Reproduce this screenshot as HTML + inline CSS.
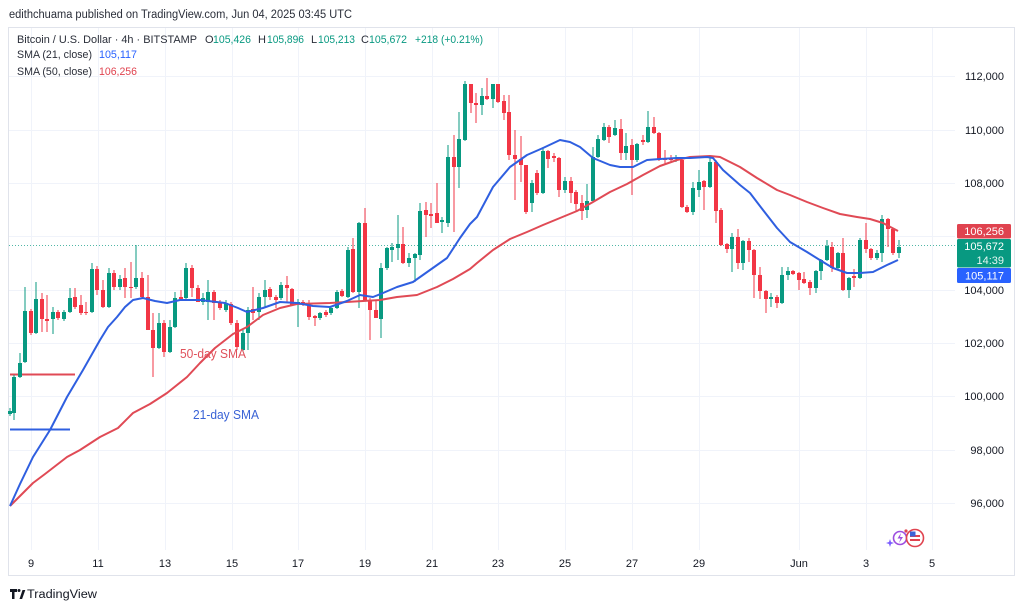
<!DOCTYPE html>
<html><head><meta charset="utf-8"><style>
html,body{margin:0;padding:0;background:#fff;}
svg{display:block;font-family:"Liberation Sans",sans-serif;}
</style></head><body>
<svg width="1024" height="609" viewBox="0 0 1024 609" xmlns="http://www.w3.org/2000/svg">
<rect width="1024" height="609" fill="#fff"/>
<text x="9" y="18" font-size="11.5" fill="#2a2e39" textLength="343" lengthAdjust="spacingAndGlyphs">edithchuama published on TradingView.com, Jun 04, 2025 03:45 UTC</text>
<rect x="8.5" y="27.5" width="1006" height="548" fill="#fff" stroke="#e0e3eb"/>
<g stroke="#f0f3fa" stroke-width="1">
<path d="M9 76.5H955M9 130.5H955M9 183.5H955M9 236.5H955M9 290.5H955M9 343.5H955M9 396.5H955M9 450.5H955M9 503.5H955"/>
<path d="M31.5 28V550M98.5 28V550M165.5 28V550M232.5 28V550M298.5 28V550M365.5 28V550M432.5 28V550M498.5 28V550M565.5 28V550M632.5 28V550M699.5 28V550M799.5 28V550M866.5 28V550M932.5 28V550"/>
</g>
<text x="17" y="43" font-size="11" fill="#2a2e39" textLength="180" lengthAdjust="spacingAndGlyphs">Bitcoin / U.S. Dollar · 4h · BITSTAMP</text>
<g font-size="11">
<text x="205" y="43" fill="#2a2e39">O</text><text x="213" y="43" fill="#089981" textLength="38" lengthAdjust="spacingAndGlyphs">105,426</text>
<text x="258" y="43" fill="#2a2e39">H</text><text x="267" y="43" fill="#089981" textLength="37" lengthAdjust="spacingAndGlyphs">105,896</text>
<text x="311" y="43" fill="#2a2e39">L</text><text x="318" y="43" fill="#089981" textLength="37" lengthAdjust="spacingAndGlyphs">105,213</text>
<text x="361" y="43" fill="#2a2e39">C</text><text x="369" y="43" fill="#089981" textLength="38" lengthAdjust="spacingAndGlyphs">105,672</text>
<text x="415" y="43" fill="#089981" textLength="68" lengthAdjust="spacingAndGlyphs">+218 (+0.21%)</text>
<text x="17" y="58" fill="#2a2e39" textLength="75" lengthAdjust="spacingAndGlyphs">SMA (21, close)</text><text x="99" y="58" fill="#2962ff" textLength="38" lengthAdjust="spacingAndGlyphs">105,117</text>
<text x="17" y="75" fill="#2a2e39" textLength="75" lengthAdjust="spacingAndGlyphs">SMA (50, close)</text><text x="99" y="75" fill="#e0434f" textLength="38" lengthAdjust="spacingAndGlyphs">106,256</text>
</g>
<!-- price axis -->
<g font-size="11" fill="#131722" text-anchor="end">
<text x="1004" y="80">112,000</text>
<text x="1004" y="134">110,000</text>
<text x="1004" y="187">108,000</text>
<text x="1004" y="294">104,000</text>
<text x="1004" y="347">102,000</text>
<text x="1004" y="400">100,000</text>
<text x="1004" y="454">98,000</text>
<text x="1004" y="507">96,000</text>
</g>
<!-- time axis -->
<g font-size="11" fill="#131722" text-anchor="middle">
<text x="31" y="567">9</text><text x="98" y="567">11</text><text x="165" y="567">13</text><text x="232" y="567">15</text><text x="298" y="567">17</text><text x="365" y="567">19</text><text x="432" y="567">21</text><text x="498" y="567">23</text><text x="565" y="567">25</text><text x="632" y="567">27</text><text x="699" y="567">29</text><text x="799" y="567">Jun</text><text x="866" y="567">3</text><text x="932" y="567">5</text>
</g>
<!-- current price dotted line -->
<path d="M9 245.5H957" stroke="#089981" stroke-width="1" stroke-dasharray="1 2" opacity="0.7"/>
<!-- drawn segments -->
<path d="M10 374.5H75" stroke="#e04a55" stroke-width="2"/>
<path d="M10 429.5H70" stroke="#2f5fe0" stroke-width="2"/>
<!-- candles -->
<path stroke="#089981" stroke-width="1" fill="none" d="M10 408V416M14 375V420M20 353V378M25 287V363M36 282V334M53 307V334M64 310V321M70 288V313M92 263V313M109 268V308M120 275V290M136 245V289M159 313V349M170 320V353M175 292V328M186 263V299M203 293V305M208 280V320M226 300V312M243 330V352M248 307V350M259 293V320M265 280V307M281 282V300M298 299V327M320 312V320M331 306V315M337 290V309M348 247V298M359 222V308M381 263V338M387 247V270M392 243V262M398 215V260M409 253V267M415 253V282M420 203V260M442 217V233M448 145V227M459 112V188M465 81V141M482 88V115M493 84V108M532 180V212M543 147V194M565 177V193M587 184V218M593 147V202M598 135V158M604 123V141M615 120V136M626 133V160M637 143V162M648 111V143M676 155V162M693 182V215M699 170V197M710 158V188M732 233V272M743 240V270M771 293V307M782 267V304M788 267V280M816 270V293M821 259V280M827 240V261M838 252V269M849 277V298M860 238V279M877 250V260M882 215V262M899 240V258"/>
<path fill="#089981" d="M8 411h4v3h-4zM12 377h4v36h-4zM18 363h4v14h-4zM23 311h4v51h-4zM34 299h4v34h-4zM51 312h4v7h-4zM62 312h4v7h-4zM68 298h4v14h-4zM90 269h4v43h-4zM107 273h4v34h-4zM118 279h4v8h-4zM134 278h4v9h-4zM157 323h4v25h-4zM168 327h4v25h-4zM173 298h4v29h-4zM184 268h4v30h-4zM201 298h4v4h-4zM206 292h4v10h-4zM224 303h4v7h-4zM241 333h4v17h-4zM246 310h4v23h-4zM257 297h4v15h-4zM263 290h4v7h-4zM279 285h4v13h-4zM296 302h4v2h-4zM318 313h4v5h-4zM329 308h4v5h-4zM335 292h4v16h-4zM346 250h4v47h-4zM357 223h4v69h-4zM379 268h4v51h-4zM385 248h4v20h-4zM390 247h4v3h-4zM396 244h4v4h-4zM407 258h4v5h-4zM413 254h4v4h-4zM418 211h4v44h-4zM440 220h4v2h-4zM446 157h4v66h-4zM457 139h4v28h-4zM463 84h4v56h-4zM480 96h4v9h-4zM491 84h4v15h-4zM530 183h4v20h-4zM541 151h4v42h-4zM563 181h4v9h-4zM585 201h4v9h-4zM591 157h4v44h-4zM596 139h4v18h-4zM602 127h4v13h-4zM613 128h4v7h-4zM624 146h4v7h-4zM635 144h4v16h-4zM646 127h4v15h-4zM674 158h4v1h-4zM691 188h4v24h-4zM697 182h4v8h-4zM708 162h4v25h-4zM730 237h4v12h-4zM741 241h4v22h-4zM769 297h4v2h-4zM780 275h4v28h-4zM786 271h4v4h-4zM814 271h4v17h-4zM819 260h4v11h-4zM825 246h4v14h-4zM836 253h4v15h-4zM847 278h4v12h-4zM858 240h4v38h-4zM875 253h4v5h-4zM880 219h4v34h-4zM897 247h4v6h-4z"/>
<path stroke="#f23645" stroke-width="1" fill="none" d="M31 309V335M42 293V332M47 295V332M58 310V320M75 288V309M81 295V315M86 302V315M97 266V295M103 280V308M114 270V290M125 268V298M131 262V298M142 272V298M148 275V330M153 313V377M164 320V357M181 290V300M192 265V297M198 285V302M214 290V320M220 300V310M231 302V325M237 320V350M253 287V320M270 287V300M276 295V308M287 276V303M292 288V306M303 300V306M309 300V320M315 315V326M326 310V317M342 289V297M353 238V293M365 208V300M370 298V340M376 300V318M403 227V264M426 202V237M431 203V228M437 183V223M454 135V232M471 84V113M476 93V123M487 78V100M498 84V103M504 95V120M509 95V160M515 130V200M521 136V182M526 165V214M537 170V195M548 150V168M554 153V162M559 157V197M571 177V203M576 190V212M582 195V220M609 125V143M621 119V160M632 139V195M643 135V145M654 117V134M659 132V161M665 150V165M671 155V163M682 159V208M687 205V213M704 180V210M716 160V223M721 208V246M727 243V253M738 229V269M749 238V262M754 249V298M760 267V299M766 290V313M777 295V308M793 270V275M799 272V290M804 272V284M810 280V295M832 242V272M843 238V291M854 269V287M866 223V253M871 248V260M888 218V247M893 228V255"/>
<path fill="#f23645" d="M29 311h4v22h-4zM40 299h4v20h-4zM45 319h4v2h-4zM56 312h4v6h-4zM73 297h4v10h-4zM79 305h4v8h-4zM84 312h4v1h-4zM95 269h4v21h-4zM101 290h4v17h-4zM112 273h4v14h-4zM123 278h4v9h-4zM129 287h4v1h-4zM140 278h4v19h-4zM146 297h4v33h-4zM151 330h4v18h-4zM162 323h4v29h-4zM179 297h4v2h-4zM190 268h4v20h-4zM196 288h4v14h-4zM212 292h4v11h-4zM218 303h4v5h-4zM229 304h4v19h-4zM235 323h4v24h-4zM251 309h4v4h-4zM268 289h4v8h-4zM274 297h4v3h-4zM285 285h4v3h-4zM290 289h4v16h-4zM301 302h4v2h-4zM307 304h4v13h-4zM313 316h4v2h-4zM324 312h4v3h-4zM340 291h4v5h-4zM351 249h4v43h-4zM363 223h4v77h-4zM368 300h4v10h-4zM374 310h4v8h-4zM401 244h4v19h-4zM424 210h4v5h-4zM429 214h4v2h-4zM435 213h4v10h-4zM452 157h4v10h-4zM469 84h4v19h-4zM474 103h4v2h-4zM485 96h4v3h-4zM496 84h4v18h-4zM502 101h4v12h-4zM507 112h4v43h-4zM513 155h4v4h-4zM519 159h4v6h-4zM524 165h4v47h-4zM535 173h4v20h-4zM546 151h4v8h-4zM552 156h4v2h-4zM557 158h4v32h-4zM569 181h4v12h-4zM574 192h4v12h-4zM580 203h4v8h-4zM607 127h4v10h-4zM619 129h4v24h-4zM630 145h4v15h-4zM641 140h4v2h-4zM652 127h4v6h-4zM657 133h4v27h-4zM663 158h4v2h-4zM669 158h4v2h-4zM680 160h4v47h-4zM685 207h4v5h-4zM702 181h4v6h-4zM714 162h4v49h-4zM719 210h4v35h-4zM725 244h4v5h-4zM736 237h4v26h-4zM747 241h4v9h-4zM752 250h4v25h-4zM758 275h4v16h-4zM764 291h4v8h-4zM775 297h4v6h-4zM791 271h4v3h-4zM797 273h4v7h-4zM802 279h4v4h-4zM808 282h4v6h-4zM830 247h4v21h-4zM841 253h4v37h-4zM852 276h4v2h-4zM864 240h4v9h-4zM869 249h4v9h-4zM886 219h4v10h-4zM891 229h4v24h-4z"/>
<!-- SMA 50 (red) -->
<polyline fill="none" stroke="#e04a55" stroke-width="2" stroke-linejoin="round" points="10,506 20,496 33,483 45,474 67,457 80,450 100,437 118,428 133,413 150,404 167,393 187,377 200,363 215,348 233,334 247,327 263,315 280,308 297,304 330,303 363,301 380,300 397,297 417,295 437,287 453,279 470,269 477,263 493,250 510,239 527,232 543,225 560,218 577,211 593,202 610,192 627,184 643,175 660,166 677,160 690,157 710,156 720,157 740,167 757,178 777,190 790,195 807,202 823,208 840,214 857,217 870,219 883,223 898,231"/>
<!-- SMA 21 (blue) -->
<polyline fill="none" stroke="#2f5fe0" stroke-width="2" stroke-linejoin="round" points="10,506 20,484 33,457 50,430 67,397 83,370 100,340 108,327 117,317 125,307 133,300 143,298 155,301 167,303 180,300 200,300 225,303 238,308 247,312 263,308 280,302 297,303 313,306 330,307 347,301 360,295 373,297 383,293 397,287 413,282 430,270 447,258 460,238 470,224 477,217 493,187 510,167 527,155 543,148 560,140 570,142 580,147 593,158 610,165 620,167 633,167 647,160 660,159 677,158 690,158 707,157 713,158 723,170 740,185 750,193 763,210 777,228 790,242 807,252 823,262 833,268 847,273 860,273 873,272 887,265 898,260"/>
<!-- annotations -->
<text x="180" y="358" font-size="12.5" fill="#e0525c" textLength="66" lengthAdjust="spacingAndGlyphs">50-day SMA</text>
<text x="193" y="419" font-size="12.5" fill="#3a63d6" textLength="66" lengthAdjust="spacingAndGlyphs">21-day SMA</text>
<!-- price labels -->
<rect x="957" y="224" width="54" height="14.5" rx="1.5" fill="#e0434f"/>
<text x="1004" y="235" font-size="11" fill="#fff" text-anchor="end">106,256</text>
<rect x="957" y="239" width="54" height="28.5" rx="1.5" fill="#089981"/>
<text x="1004" y="250" font-size="11" fill="#fff" text-anchor="end">105,672</text>
<text x="1004" y="264" font-size="11" fill="#e6f7f3" text-anchor="end">14:39</text>
<rect x="957" y="268" width="54" height="15" rx="1.5" fill="#2962ff"/>
<text x="1004" y="279.5" font-size="11" fill="#fff" text-anchor="end">105,117</text>
<!-- event icons -->
<circle cx="900" cy="538" r="6.5" fill="#fff" stroke="#9c4ee0" stroke-width="1.6"/>
<path d="M901 533l-3.5 5.5h3l-1.5 4.5 4-6h-3z" fill="#9c4ee0"/>
<path d="M889 542l1-3 1 3 3 1-3 1-1 3-1-3-3-1z" fill="#7a5cff"/>
<circle cx="915" cy="538" r="8.5" fill="#fff" stroke="#e0434f" stroke-width="1.6"/>
<rect x="910" y="535" width="10" height="2" fill="#e0434f"/>
<rect x="910" y="539" width="10" height="2" fill="#e0434f"/>
<rect x="910" y="531.5" width="5.5" height="5" fill="#3a63d6"/>
<circle cx="906" cy="531" r="1.6" fill="#e0434f"/>
<!-- footer logo -->
<path d="M10 589h7v3h-2.5v7h-2.5v-7h-2z" fill="#131722"/>
<circle cx="19" cy="590.5" r="1.5" fill="#131722"/>
<path d="M19.5 599l3-9h2.8l-3.2 9z" fill="#131722"/>
<text x="27" y="598" font-size="11.5" fill="#131722" textLength="70" lengthAdjust="spacingAndGlyphs">TradingView</text>
</svg>
</body></html>
